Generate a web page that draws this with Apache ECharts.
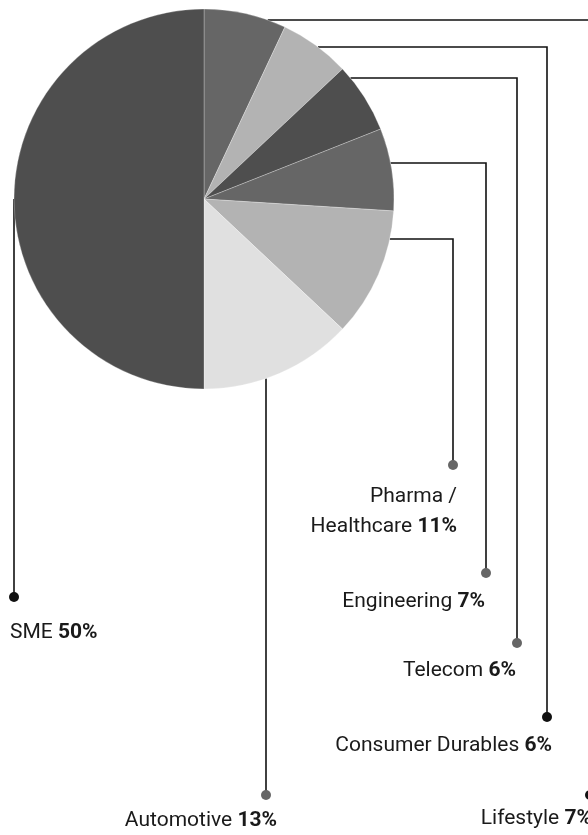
<!DOCTYPE html>
<html>
<head>
<meta charset="utf-8">
<script src="https://cdn.jsdelivr.net/npm/echarts@6/dist/echarts.min.js"></script>
<style>
html,body{margin:0;padding:0;background:#fff;}
#chart{width:588px;height:835px;}
</style>
</head>
<body>
<div id="chart"></div>
<script>
// ---- data ----
const categories = ['Lifestyle', 'Consumer Durables', 'Telecom', 'Engineering', 'Pharma /\nHealthcare', 'Automotive', 'SME'];
const shares = [7, 6, 6, 7, 11, 13, 50];
const sliceColors = ['#666666', '#b3b3b3', '#4e4e4e', '#666666', '#b3b3b3', '#e0e0e0', '#4e4e4e'];

// ---- leader-line layout (label placement, not data) ----
const leaderElbowY = [20, 47, 78, 163, 239, null, null];   // horizontal run height, null = straight drop
const leaderColumnX = [590, 547, 517, 486, 453, 266, 14];
const leaderDotY = [795, 717, 643, 573, 465, 795, 597];
const dotColors = ['#111', '#111', '#666', '#666', '#666', '#666', '#111'];
const textDx = [2, 5, -1, -1, 4, 11, -4];
const textGap = [30, 35, 34, 35, 38, 32, 42];
const labelSide = ['right', 'right', 'right', 'right', 'right', 'right', 'left'];

const CX = 204, CY = 199, R = 190;
const FONT = "Roboto, 'Liberation Sans Narrow', sans-serif";
const FS = 21, LH = 30, DOT = 10;

function dotLineHeight(i) { return Math.max(DOT, 2 * (textGap[i] - 21)); }

function buildLabel(i) {
  const side = labelSide[i];
  const col = leaderColumnX[i];
  let dotSp, txtSp;
  if (side === 'right') {
    const edge = Math.max(col + DOT / 2, col + textDx[i]);
    dotSp = edge - (col + DOT / 2);
    txtSp = edge - (col + textDx[i]);
  } else {
    const edge = Math.min(col - DOT / 2, col + textDx[i]);
    dotSp = (col - DOT / 2) - edge;
    txtSp = (col + textDx[i]) - edge;
  }
  const hd = dotLineHeight(i);
  const rich = {
    dot: { width: DOT, height: DOT, borderRadius: DOT / 2, backgroundColor: dotColors[i], lineHeight: hd },
    sd: { width: Math.max(dotSp, 0.01), lineHeight: hd, fontSize: 1 },
    st: { width: Math.max(txtSp, 0.01), lineHeight: LH, fontSize: 1 },
    n: { fontFamily: FONT, fontSize: FS, lineHeight: LH, color: '#1a1a1a' },
    b: { fontFamily: FONT, fontSize: FS, lineHeight: LH, color: '#1a1a1a', fontWeight: 'bold' }
  };
  const lines = categories[i].split('\n');
  let dotLine, textLines;
  if (side === 'right') {
    dotLine = '{dot| }' + (dotSp > 0 ? '{sd| }' : '');
    textLines = lines.map((ln, k) => k < lines.length - 1
      ? '{n|' + ln + '}' + (txtSp > 0 ? '{st| }' : '')
      : '{n|' + ln + ' }{b|' + shares[i] + '%}' + (txtSp > 0 ? '{st| }' : ''));
  } else {
    dotLine = (dotSp > 0 ? '{sd| }' : '') + '{dot| }';
    textLines = lines.map((ln, k) => (txtSp > 0 ? '{st| }' : '') + (k < lines.length - 1
      ? '{n|' + ln + '}'
      : '{n|' + ln + ' }{b|' + shares[i] + '%}'));
  }
  return {
    text: [dotLine].concat(textLines).join('\n'),
    rich: rich,
    anchorX: side === 'right'
      ? Math.max(col + DOT / 2, col + textDx[i])
      : Math.min(col - DOT / 2, col + textDx[i])
  };
}

const labels = categories.map((c, i) => buildLabel(i));

const seriesData = categories.map((c, i) => ({
  name: c,
  value: shares[i],
  itemStyle: { color: sliceColors[i] },
  label: { rich: labels[i].rich }
}));

const chart = echarts.init(document.getElementById('chart'), null, { renderer: 'canvas' });
chart.setOption({
  animation: false,
  backgroundColor: '#ffffff',
  series: [{
    type: 'pie',
    center: [CX, CY],
    radius: [0, R],
    startAngle: 90,
    clockwise: true,
    avoidLabelOverlap: false,
    silent: true,
    itemStyle: { borderColor: 'rgba(255,255,255,0.45)', borderWidth: 0.6 },
    label: {
      show: true,
      position: 'outside',
      formatter: p => labels[p.dataIndex].text
    },
    labelLine: {
      show: true,
      smooth: false,
      lineStyle: { color: '#111111', width: 1.6 }
    },
    labelLayout: function (params) {
      const i = params.dataIndex;
      const col = leaderColumnX[i];
      const dy = leaderDotY[i];
      let pts;
      if (leaderElbowY[i] != null) {
        const ey = leaderElbowY[i];
        const sx = CX + Math.sqrt(R * R - (ey - CY) * (ey - CY));
        pts = [[sx, ey], [col, ey], [col, dy]];
      } else {
        const off = Math.sqrt(Math.max(R * R - (col - CX) * (col - CX), 0));
        const sy = CY + off;
        pts = [[col, sy], [col, (sy + dy) / 2], [col, dy]];
      }
      return {
        x: labels[i].anchorX,
        y: dy - dotLineHeight(i) / 2,
        align: labelSide[i],
        verticalAlign: 'top',
        labelLinePoints: pts
      };
    },
    data: seriesData
  }]
});
</script>
</body>
</html>
